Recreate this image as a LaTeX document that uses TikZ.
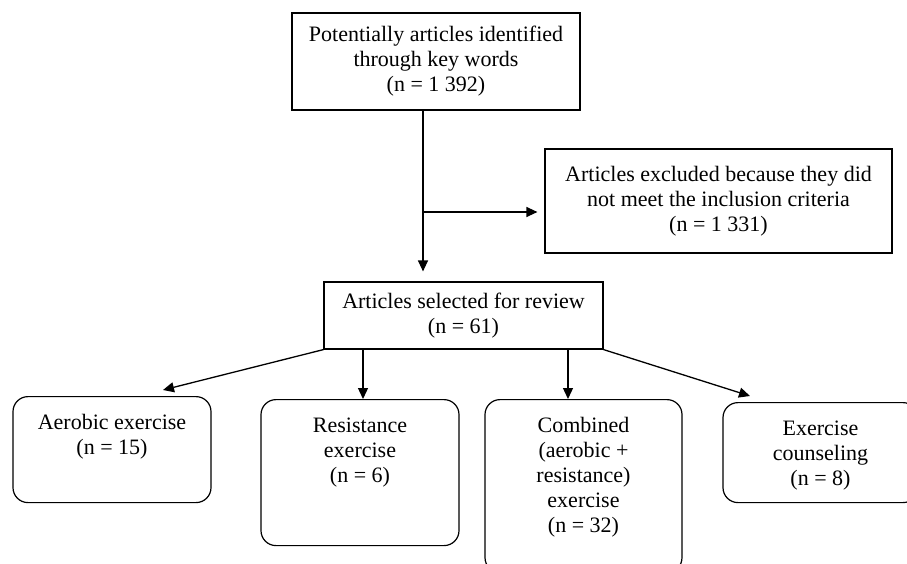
\documentclass[tikz,border=0pt]{standalone}
\usepackage{fontspec}
\setmainfont{Liberation Serif}
\usetikzlibrary{arrows.meta}

\begin{document}
\begin{tikzpicture}[
  x=1pt, y=-1pt,
  font=\fontsize{22}{25}\selectfont,
  every node/.style={
    draw,
    align=center,
    line width=1.2pt,
    inner sep=0pt
  },
  group/.style={rounded corners=15pt, minimum width=198pt, anchor=north},
  grouptext/.style={draw=none, anchor=north, yshift=-18pt},
  arrow/.style={-{Triangle[length=11pt,width=10pt]}, line width=1.3pt}
]
\useasboundingbox (0,0) rectangle (907,563);
\clip (0,0) rectangle (907,563);

\node[minimum width=288pt, minimum height=97pt] (found) at (436,61.5) {Potentially articles identified\\through key words\\(n = 1 392)};
\node[minimum width=347pt, minimum height=104pt] (excluded) at (718.5,201) {Articles excluded because they did\\not meet the inclusion criteria\\(n = 1 331)};
\node[minimum width=279pt, minimum height=67pt] (selected) at (463.5,315.5) {Articles selected for review\\(n = 61)};

\node[group, minimum height=106pt, label={[grouptext]north:Aerobic exercise\\(n = 15)}] (aerobic) at (112,396) {};
\node[group, minimum height=146pt, label={[grouptext]north:Resistance\\exercise\\(n = 6)}] (resistance) at (360,399) {};
\node[group, minimum width=197pt, minimum height=173pt, label={[grouptext]north:Combined\\(aerobic +\\resistance)\\exercise\\(n = 32)}] (combined) at (583.5,399) {};
\node[group, minimum width=195pt, minimum height=100pt, label={[grouptext]north:Exercise\\counseling\\(n = 8)}] (counseling) at (820.5,402) {};

\coordinate (split) at (423,212);
\draw[arrow, shorten >=10pt] (found.south -| split) -- (selected.north -| split);
\draw[arrow, shorten >=7pt] (split) -- (split -| excluded.west);
\draw[arrow] (selected.south west) -- ([xshift=51pt,yshift=6pt]aerobic.north);
\draw[arrow] ([xshift=3pt]resistance.north |- selected.south) -- ([xshift=3pt]resistance.north);
\draw[arrow] ([xshift=-15.5pt]combined.north |- selected.south) -- ([xshift=-15.5pt]combined.north);
\draw[arrow] (selected.south east) -- ([xshift=-70.5pt,yshift=6pt]counseling.north);
\end{tikzpicture}
\end{document}
